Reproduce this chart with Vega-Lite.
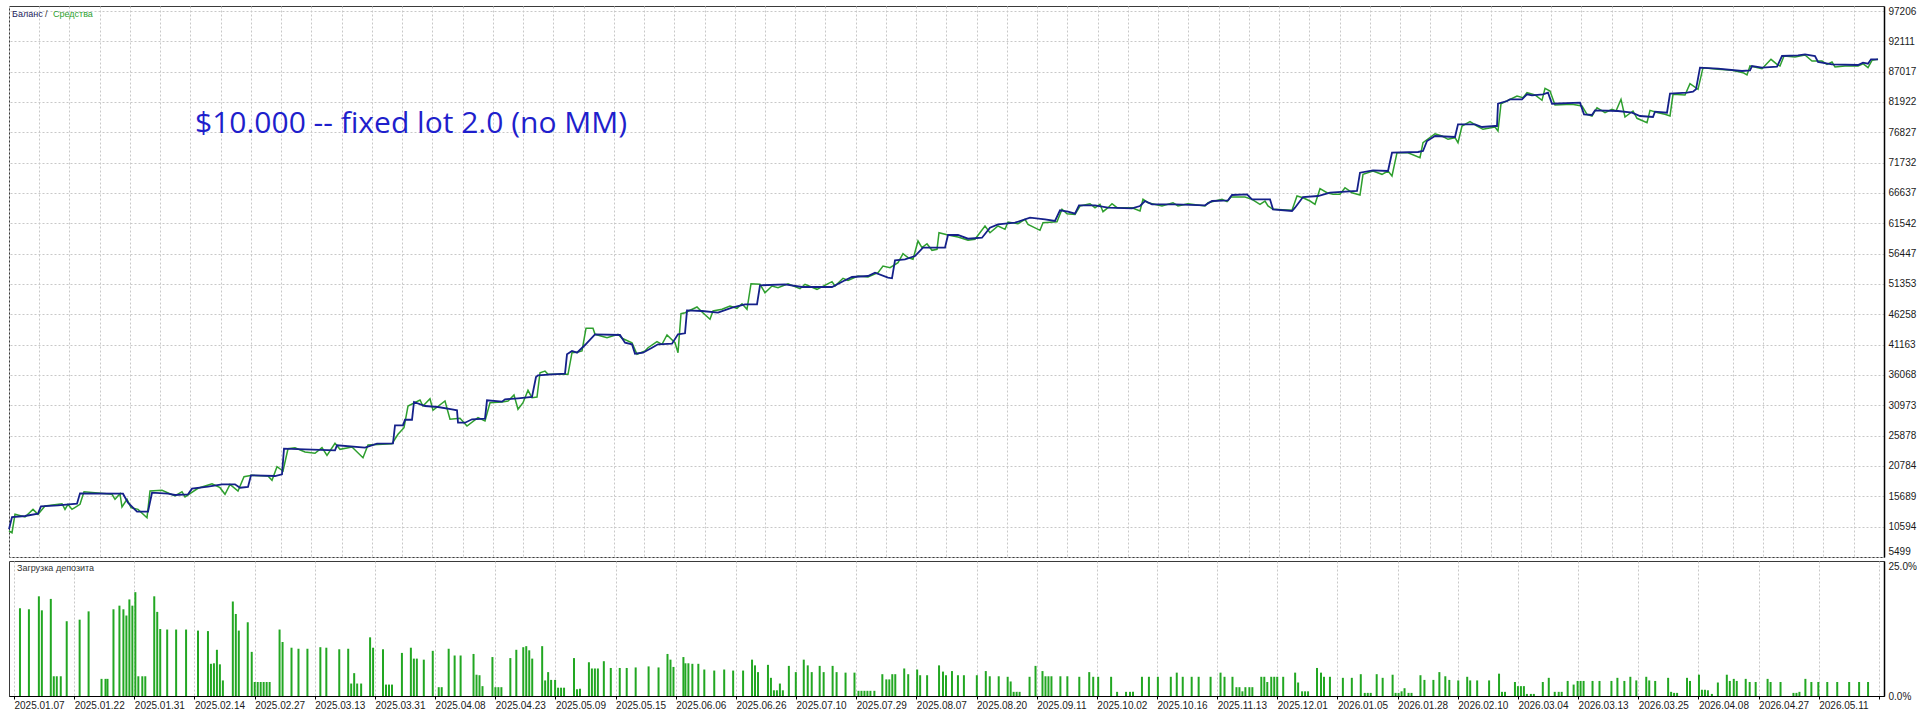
{
  "$schema": "https://vega.github.io/schema/vega-lite/v6.json",
  "background": "white",
  "padding": {"left": 4, "top": 5, "right": 0, "bottom": 0},
  "spacing": 2,
  "config": {
    "view": {"stroke": "#3a3a3a", "strokeWidth": 1},
    "axis": {"gridColor": "#c8c8c8", "gridDash": [2, 2], "gridWidth": 1, "labelFont": "Liberation Sans", "labelFontSize": 10, "labelColor": "#1a1a1a", "title": null, "labelOverlap": false, "labelFlush": false, "labelBound": false},
    "axisY": {"labelOverlap": false}
  },
  "datasets": {
    "bal": [
      {"i":0,"v":10130},{"i":3,"v":12198},{"i":16,"v":12366},{"i":29,"v":12752},{"i":32,"v":14000},{"i":49,"v":14168},{"i":68,"v":14438},{"i":71,"v":16180},{"i":114,"v":16114},{"i":119,"v":14600},{"i":128,"v":13090},{"i":139,"v":13090},{"i":143,"v":16280},{"i":159,"v":16114},{"i":166,"v":15894},{"i":179,"v":16010},{"i":183,"v":16950},{"i":199,"v":17290},{"i":213,"v":17690},{"i":226,"v":17690},{"i":231,"v":17120},{"i":239,"v":17238},{"i":242,"v":19200},{"i":266,"v":19086},{"i":273,"v":19370},{"i":275,"v":23670},{"i":296,"v":23570},{"i":326,"v":23400},{"i":328,"v":24240},{"i":356,"v":23840},{"i":368,"v":24510},{"i":384,"v":24580},{"i":386,"v":27600},{"i":394,"v":27600},{"i":396,"v":28540},{"i":403,"v":28540},{"i":405,"v":31518},{"i":416,"v":30846},{"i":429,"v":30680},{"i":443,"v":30290},{"i":448,"v":30120},{"i":449,"v":28040},{"i":456,"v":28040},{"i":463,"v":28610},{"i":476,"v":28720},{"i":478,"v":31800},{"i":493,"v":31570},{"i":496,"v":31970},{"i":509,"v":32140},{"i":523,"v":32360},{"i":527,"v":35718},{"i":529,"v":36000},{"i":543,"v":36170},{"i":556,"v":36270},{"i":558,"v":39530},{"i":563,"v":40086},{"i":568,"v":39800},{"i":576,"v":41090},{"i":586,"v":42890},{"i":611,"v":42774},{"i":616,"v":41480},{"i":623,"v":41210},{"i":626,"v":39640},{"i":634,"v":39800},{"i":643,"v":40640},{"i":649,"v":41210},{"i":663,"v":41310},{"i":669,"v":42890},{"i":676,"v":43060},{"i":678,"v":46920},{"i":693,"v":46806},{"i":709,"v":46520},{"i":723,"v":47360},{"i":736,"v":47930},{"i":748,"v":47930},{"i":751,"v":51120},{"i":776,"v":51290},{"i":793,"v":50838},{"i":823,"v":50838},{"i":836,"v":51960},{"i":843,"v":52518},{"i":859,"v":52686},{"i":866,"v":53240},{"i":879,"v":52400},{"i":883,"v":52300},{"i":886,"v":55320},{"i":896,"v":55490},{"i":906,"v":56046},{"i":914,"v":57440},{"i":936,"v":57440},{"i":939,"v":59574},{"i":949,"v":59574},{"i":959,"v":58950},{"i":973,"v":59120},{"i":981,"v":60800},{"i":989,"v":61370},{"i":1006,"v":61640},{"i":1021,"v":62480},{"i":1036,"v":62210},{"i":1046,"v":61926},{"i":1051,"v":63720},{"i":1059,"v":63490},{"i":1066,"v":63150},{"i":1070,"v":64560},{"i":1086,"v":64560},{"i":1099,"v":64160},{"i":1123,"v":64060},{"i":1131,"v":64446},{"i":1136,"v":65286},{"i":1143,"v":64730},{"i":1166,"v":64730},{"i":1196,"v":64560},{"i":1203,"v":65286},{"i":1219,"v":65400},{"i":1223,"v":66294},{"i":1238,"v":66410},{"i":1243,"v":65570},{"i":1261,"v":65570},{"i":1264,"v":63890},{"i":1283,"v":63606},{"i":1286,"v":64160},{"i":1294,"v":65958},{"i":1309,"v":66126},{"i":1321,"v":66680},{"i":1348,"v":66966},{"i":1351,"v":70040},{"i":1364,"v":70440},{"i":1379,"v":70326},{"i":1383,"v":73400},{"i":1409,"v":73520},{"i":1414,"v":73686},{"i":1418,"v":75366},{"i":1426,"v":76206},{"i":1446,"v":76038},{"i":1449,"v":78170},{"i":1466,"v":78170},{"i":1473,"v":77720},{"i":1486,"v":77886},{"i":1488,"v":77886},{"i":1489,"v":81630},{"i":1498,"v":82086},{"i":1501,"v":82370},{"i":1513,"v":82370},{"i":1518,"v":83210},{"i":1523,"v":83040},{"i":1534,"v":83210},{"i":1539,"v":83480},{"i":1543,"v":81630},{"i":1571,"v":81800},{"i":1575,"v":79850},{"i":1583,"v":79734},{"i":1586,"v":80520},{"i":1609,"v":80406},{"i":1623,"v":80120},{"i":1631,"v":79566},{"i":1644,"v":79400},{"i":1646,"v":80290},{"i":1658,"v":80120},{"i":1661,"v":83310},{"i":1678,"v":83480},{"i":1684,"v":83650},{"i":1687,"v":84050},{"i":1691,"v":87680},{"i":1709,"v":87510},{"i":1733,"v":87126},{"i":1741,"v":87240},{"i":1743,"v":87966},{"i":1753,"v":87680},{"i":1768,"v":87850},{"i":1773,"v":89646},{"i":1789,"v":89760},{"i":1796,"v":89930},{"i":1806,"v":89646},{"i":1809,"v":88638},{"i":1823,"v":88250},{"i":1849,"v":88134},{"i":1854,"v":88520},{"i":1859,"v":88350},{"i":1862,"v":89090},{"i":1869,"v":89090}
    ],
    "eq": [
      {"i":0,"v":9846},{"i":3,"v":9560},{"i":6,"v":12650},{"i":16,"v":12198},{"i":24,"v":13480},{"i":29,"v":12650},{"i":36,"v":14046},{"i":53,"v":14430},{"i":56,"v":13480},{"i":59,"v":14330},{"i":63,"v":13480},{"i":71,"v":14330},{"i":75,"v":16450},{"i":103,"v":16010},{"i":106,"v":15170},{"i":111,"v":16114},{"i":113,"v":13878},{"i":118,"v":15170},{"i":122,"v":13766},{"i":129,"v":13480},{"i":138,"v":12080},{"i":141,"v":16566},{"i":153,"v":16680},{"i":166,"v":15726},{"i":173,"v":16450},{"i":176,"v":15560},{"i":189,"v":17020},{"i":203,"v":17790},{"i":211,"v":17120},{"i":216,"v":16010},{"i":221,"v":17690},{"i":229,"v":16566},{"i":235,"v":18970},{"i":243,"v":19200},{"i":259,"v":19086},{"i":263,"v":18360},{"i":268,"v":20650},{"i":274,"v":19926},{"i":279,"v":23670},{"i":286,"v":23840},{"i":296,"v":23118},{"i":306,"v":22900},{"i":313,"v":23840},{"i":318,"v":22560},{"i":326,"v":24580},{"i":331,"v":23570},{"i":343,"v":23960},{"i":354,"v":22160},{"i":359,"v":24290},{"i":383,"v":24510},{"i":389,"v":26090},{"i":395,"v":27200},{"i":399,"v":30846},{"i":411,"v":31854},{"i":414,"v":30846},{"i":421,"v":32070},{"i":424,"v":30120},{"i":436,"v":31686},{"i":441,"v":28610},{"i":451,"v":28780},{"i":458,"v":27486},{"i":469,"v":28890},{"i":476,"v":28326},{"i":481,"v":31400},{"i":493,"v":31518},{"i":499,"v":31686},{"i":505,"v":32694},{"i":509,"v":30290},{"i":514,"v":31400},{"i":519,"v":33480},{"i":523,"v":32240},{"i":528,"v":32360},{"i":531,"v":36440},{"i":536,"v":36726},{"i":539,"v":36160},{"i":559,"v":36160},{"i":563,"v":39800},{"i":569,"v":39918},{"i":573,"v":40086},{"i":577,"v":43900},{"i":584,"v":43900},{"i":586,"v":42890},{"i":598,"v":42320},{"i":609,"v":42890},{"i":613,"v":42220},{"i":623,"v":41480},{"i":628,"v":39530},{"i":636,"v":40086},{"i":639,"v":40640},{"i":648,"v":41650},{"i":653,"v":41210},{"i":658,"v":42774},{"i":666,"v":41480},{"i":669,"v":39800},{"i":672,"v":46350},{"i":676,"v":46520},{"i":688,"v":47478},{"i":693,"v":46638},{"i":701,"v":45410},{"i":704,"v":46806},{"i":713,"v":47090},{"i":721,"v":47646},{"i":728,"v":47260},{"i":733,"v":48030},{"i":738,"v":47090},{"i":742,"v":51390},{"i":751,"v":51290},{"i":756,"v":49880},{"i":763,"v":51006},{"i":769,"v":50720},{"i":779,"v":51390},{"i":791,"v":50550},{"i":796,"v":51290},{"i":808,"v":50450},{"i":823,"v":51730},{"i":826,"v":51006},{"i":834,"v":52300},{"i":839,"v":51960},{"i":849,"v":52686},{"i":859,"v":52518},{"i":869,"v":53240},{"i":874,"v":54366},{"i":881,"v":54080},{"i":889,"v":54920},{"i":894,"v":56430},{"i":899,"v":55760},{"i":904,"v":55490},{"i":909,"v":58566},{"i":913,"v":57440},{"i":918,"v":58110},{"i":923,"v":57000},{"i":928,"v":57170},{"i":930,"v":59960},{"i":939,"v":59574},{"i":949,"v":59240},{"i":959,"v":58680},{"i":966,"v":58850},{"i":976,"v":61086},{"i":981,"v":59960},{"i":989,"v":61086},{"i":996,"v":60530},{"i":999,"v":61760},{"i":1009,"v":61470},{"i":1016,"v":62210},{"i":1019,"v":61370},{"i":1031,"v":60360},{"i":1034,"v":61640},{"i":1048,"v":61810},{"i":1053,"v":63890},{"i":1058,"v":63150},{"i":1066,"v":63040},{"i":1071,"v":64446},{"i":1081,"v":64830},{"i":1086,"v":64160},{"i":1091,"v":64730},{"i":1094,"v":63490},{"i":1099,"v":64160},{"i":1103,"v":64830},{"i":1108,"v":64160},{"i":1123,"v":64160},{"i":1131,"v":63606},{"i":1134,"v":65570},{"i":1139,"v":65000},{"i":1153,"v":64446},{"i":1164,"v":65000},{"i":1169,"v":64446},{"i":1179,"v":64830},{"i":1196,"v":64446},{"i":1199,"v":65000},{"i":1213,"v":65570},{"i":1218,"v":65170},{"i":1222,"v":65958},{"i":1236,"v":65958},{"i":1243,"v":65570},{"i":1251,"v":64730},{"i":1256,"v":65286},{"i":1259,"v":64446},{"i":1264,"v":63890},{"i":1283,"v":63720},{"i":1288,"v":66126},{"i":1294,"v":65840},{"i":1301,"v":65286},{"i":1306,"v":64730},{"i":1311,"v":67350},{"i":1318,"v":66680},{"i":1324,"v":66410},{"i":1331,"v":66410},{"i":1336,"v":67520},{"i":1343,"v":66680},{"i":1351,"v":66294},{"i":1354,"v":69770},{"i":1364,"v":70326},{"i":1373,"v":69770},{"i":1379,"v":70326},{"i":1383,"v":69486},{"i":1388,"v":73400},{"i":1399,"v":73400},{"i":1411,"v":72560},{"i":1414,"v":75080},{"i":1426,"v":76590},{"i":1433,"v":76206},{"i":1439,"v":75650},{"i":1446,"v":75920},{"i":1449,"v":75080},{"i":1453,"v":77886},{"i":1461,"v":78610},{"i":1468,"v":77886},{"i":1474,"v":77330},{"i":1486,"v":77720},{"i":1489,"v":77046},{"i":1492,"v":81630},{"i":1508,"v":82926},{"i":1514,"v":82640},{"i":1518,"v":83480},{"i":1526,"v":83094},{"i":1533,"v":82200},{"i":1536,"v":84220},{"i":1541,"v":83766},{"i":1546,"v":81414},{"i":1563,"v":81530},{"i":1573,"v":81246},{"i":1578,"v":79850},{"i":1583,"v":79566},{"i":1588,"v":80960},{"i":1596,"v":80120},{"i":1603,"v":80690},{"i":1607,"v":80406},{"i":1612,"v":82370},{"i":1616,"v":79400},{"i":1624,"v":80406},{"i":1628,"v":79180},{"i":1638,"v":78440},{"i":1641,"v":80520},{"i":1649,"v":80120},{"i":1656,"v":79850},{"i":1661,"v":79566},{"i":1664,"v":83210},{"i":1676,"v":83094},{"i":1681,"v":84990},{"i":1689,"v":84050},{"i":1694,"v":87680},{"i":1709,"v":87410},{"i":1723,"v":87240},{"i":1734,"v":86840},{"i":1738,"v":86454},{"i":1741,"v":87966},{"i":1753,"v":87510},{"i":1762,"v":89090},{"i":1768,"v":88250},{"i":1771,"v":87966},{"i":1775,"v":89646},{"i":1786,"v":89478},{"i":1796,"v":89814},{"i":1803,"v":88806},{"i":1813,"v":88806},{"i":1818,"v":88250},{"i":1823,"v":88638},{"i":1826,"v":87798},{"i":1836,"v":87966},{"i":1849,"v":87966},{"i":1854,"v":88350},{"i":1859,"v":87680},{"i":1863,"v":88920},{"i":1869,"v":89090}
    ],
    "load": [
      {"i":6,"p":16.9},{"i":15,"p":16.7},{"i":25,"p":19.2},{"i":28,"p":16.5},{"i":37,"p":18.7},{"i":40,"p":3.8},{"i":43,"p":3.8},{"i":47,"p":3.8},{"i":53,"p":14.4},{"i":66,"p":14.7},{"i":75,"p":16.3},{"i":88,"p":3.3},{"i":92,"p":3.3},{"i":94,"p":3.3},{"i":100,"p":16.7},{"i":106,"p":17.4},{"i":110,"p":16.7},{"i":113,"p":15.5},{"i":116,"p":18.6},{"i":119,"p":17.4},{"i":122,"p":20.0},{"i":125,"p":3.8},{"i":129,"p":3.8},{"i":132,"p":3.8},{"i":141,"p":19.2},{"i":144,"p":16.2},{"i":147,"p":12.9},{"i":154,"p":12.8},{"i":163,"p":12.8},{"i":173,"p":12.8},{"i":185,"p":12.6},{"i":195,"p":12.5},{"i":198,"p":6.2},{"i":201,"p":6.3},{"i":204,"p":8.9},{"i":207,"p":6.1},{"i":210,"p":3.0},{"i":220,"p":18.2},{"i":223,"p":15.8},{"i":226,"p":12.6},{"i":235,"p":14.2},{"i":239,"p":8.5},{"i":242,"p":2.7},{"i":245,"p":2.7},{"i":248,"p":2.7},{"i":251,"p":2.7},{"i":254,"p":2.7},{"i":257,"p":2.7},{"i":267,"p":12.8},{"i":270,"p":10.4},{"i":279,"p":9.3},{"i":286,"p":9.1},{"i":295,"p":9.1},{"i":308,"p":9.4},{"i":314,"p":9.3},{"i":327,"p":9.0},{"i":336,"p":9.1},{"i":339,"p":2.4},{"i":342,"p":4.4},{"i":345,"p":2.4},{"i":349,"p":2.4},{"i":358,"p":11.3},{"i":361,"p":9.3},{"i":371,"p":9.0},{"i":374,"p":2.2},{"i":377,"p":2.2},{"i":380,"p":2.2},{"i":390,"p":8.3},{"i":399,"p":9.3},{"i":402,"p":7.2},{"i":405,"p":7.2},{"i":412,"p":7.0},{"i":421,"p":8.7},{"i":427,"p":1.7},{"i":430,"p":1.7},{"i":437,"p":9.1},{"i":443,"p":7.8},{"i":449,"p":7.8},{"i":462,"p":8.1},{"i":465,"p":4.1},{"i":468,"p":4.0},{"i":471,"p":1.9},{"i":481,"p":7.5},{"i":484,"p":1.7},{"i":487,"p":1.7},{"i":490,"p":1.7},
      {"i":499,"p":7.3},{"i":505,"p":8.9},{"i":512,"p":9.4},{"i":515,"p":9.6},{"i":518,"p":8.8},{"i":521,"p":7.2},{"i":531,"p":9.6},{"i":534,"p":3.0},{"i":537,"p":4.6},{"i":540,"p":3.1},{"i":544,"p":3.1},{"i":547,"p":1.6},{"i":550,"p":1.6},{"i":553,"p":1.6},{"i":563,"p":7.3},{"i":566,"p":1.3},{"i":569,"p":1.4},{"i":578,"p":6.5},{"i":581,"p":5.3},{"i":584,"p":5.3},{"i":587,"p":5.3},{"i":593,"p":6.7},{"i":600,"p":5.4},{"i":609,"p":5.4},{"i":616,"p":5.4},{"i":625,"p":5.5},{"i":638,"p":5.7},{"i":648,"p":5.5},{"i":657,"p":8.1},{"i":660,"p":7.0},{"i":663,"p":5.6},{"i":673,"p":7.5},{"i":675,"p":6.3},{"i":678,"p":6.3},{"i":682,"p":6.2},{"i":688,"p":6.2},{"i":694,"p":5.1},{"i":704,"p":4.9},{"i":714,"p":5.1},{"i":723,"p":4.9},{"i":733,"p":4.9},{"i":742,"p":7.0},{"i":745,"p":5.9},{"i":748,"p":4.6},{"i":758,"p":6.0},{"i":761,"p":3.5},{"i":764,"p":1.1},{"i":767,"p":1.1},{"i":770,"p":2.4},{"i":773,"p":1.1},{"i":779,"p":5.8},{"i":786,"p":4.6},{"i":794,"p":7.0},{"i":798,"p":5.9},{"i":802,"p":4.6},{"i":810,"p":5.8},{"i":814,"p":4.6},{"i":823,"p":5.8},{"i":827,"p":4.6},{"i":836,"p":4.5},{"i":845,"p":4.5},{"i":849,"p":1.0},{"i":852,"p":1.0},{"i":855,"p":1.0},{"i":858,"p":1.0},{"i":861,"p":1.0},{"i":865,"p":1.0},{"i":873,"p":4.2},{"i":877,"p":3.2},{"i":880,"p":3.2},{"i":883,"p":4.2},{"i":886,"p":4.2},{"i":895,"p":5.3},{"i":899,"p":4.2},{"i":908,"p":5.1},{"i":911,"p":4.0},{"i":918,"p":4.0},{"i":930,"p":5.9},{"i":934,"p":4.7},{"i":937,"p":4.0},{"i":943,"p":4.8},
      {"i":949,"p":4.0},{"i":955,"p":4.0},{"i":968,"p":4.0},{"i":977,"p":4.8},{"i":981,"p":3.8},{"i":990,"p":3.8},{"i":999,"p":3.7},{"i":1002,"p":2.8},{"i":1005,"p":0.8},{"i":1008,"p":0.8},{"i":1011,"p":0.8},{"i":1021,"p":3.7},{"i":1027,"p":5.8},{"i":1034,"p":4.8},{"i":1037,"p":3.8},{"i":1040,"p":3.8},{"i":1043,"p":3.8},{"i":1052,"p":3.8},{"i":1059,"p":3.8},{"i":1071,"p":3.7},{"i":1081,"p":4.6},{"i":1085,"p":3.7},{"i":1090,"p":3.7},{"i":1103,"p":3.7},{"i":1109,"p":0.8},{"i":1118,"p":0.8},{"i":1122,"p":0.8},{"i":1125,"p":0.8},{"i":1134,"p":3.7},{"i":1141,"p":3.7},{"i":1150,"p":3.7},{"i":1163,"p":3.7},{"i":1169,"p":4.5},{"i":1175,"p":3.7},{"i":1184,"p":3.7},{"i":1191,"p":3.7},{"i":1203,"p":3.7},{"i":1213,"p":4.5},{"i":1217,"p":3.7},{"i":1225,"p":3.7},{"i":1229,"p":1.7},{"i":1232,"p":1.7},{"i":1235,"p":0.9},{"i":1238,"p":1.7},{"i":1242,"p":1.7},{"i":1245,"p":1.7},{"i":1254,"p":3.7},{"i":1257,"p":3.7},{"i":1260,"p":2.7},{"i":1264,"p":3.7},{"i":1267,"p":3.7},{"i":1270,"p":3.7},{"i":1276,"p":3.7},{"i":1288,"p":4.5},{"i":1291,"p":2.6},{"i":1295,"p":0.9},{"i":1298,"p":0.9},{"i":1301,"p":0.9},{"i":1310,"p":5.4},{"i":1314,"p":4.5},{"i":1317,"p":3.7},{"i":1323,"p":3.7},{"i":1336,"p":3.5},{"i":1345,"p":3.5},{"i":1354,"p":4.2},{"i":1358,"p":0.6},{"i":1361,"p":0.6},{"i":1364,"p":0.6},{"i":1370,"p":4.2},{"i":1376,"p":3.5},{"i":1386,"p":4.1},{"i":1389,"p":0.6},{"i":1392,"p":0.6},{"i":1395,"p":0.9},{"i":1398,"p":1.5},{"i":1402,"p":0.6},{"i":1405,"p":0.6},
      {"i":1414,"p":4.0},{"i":1418,"p":3.1},{"i":1427,"p":3.1},{"i":1433,"p":4.6},{"i":1439,"p":3.8},{"i":1443,"p":3.1},{"i":1452,"p":3.0},{"i":1461,"p":3.7},{"i":1464,"p":3.0},{"i":1471,"p":3.0},{"i":1483,"p":3.0},{"i":1493,"p":4.3},{"i":1496,"p":0.8},{"i":1499,"p":0.8},{"i":1509,"p":2.7},{"i":1512,"p":1.9},{"i":1515,"p":1.9},{"i":1518,"p":1.9},{"i":1521,"p":0.4},{"i":1525,"p":0.4},{"i":1528,"p":0.4},{"i":1537,"p":2.7},{"i":1543,"p":3.5},{"i":1549,"p":0.8},{"i":1553,"p":0.8},{"i":1556,"p":0.8},{"i":1562,"p":2.9},{"i":1568,"p":2.2},{"i":1572,"p":2.9},{"i":1575,"p":2.9},{"i":1578,"p":2.9},{"i":1587,"p":2.9},{"i":1594,"p":2.9},{"i":1606,"p":2.9},{"i":1612,"p":3.5},{"i":1619,"p":2.9},{"i":1625,"p":3.7},{"i":1631,"p":3.0},{"i":1641,"p":3.7},{"i":1644,"p":3.0},{"i":1650,"p":2.9},{"i":1663,"p":3.5},{"i":1666,"p":0.8},{"i":1669,"p":0.6},{"i":1672,"p":0.6},{"i":1682,"p":3.5},{"i":1685,"p":2.9},{"i":1694,"p":4.1},{"i":1697,"p":1.2},{"i":1700,"p":1.2},{"i":1703,"p":1.1},{"i":1707,"p":0.4},{"i":1713,"p":2.6},{"i":1722,"p":4.1},{"i":1725,"p":2.9},{"i":1729,"p":3.3},{"i":1732,"p":2.9},{"i":1741,"p":3.3},{"i":1745,"p":2.7},{"i":1751,"p":2.7},{"i":1763,"p":3.3},{"i":1766,"p":2.7},{"i":1776,"p":2.7},{"i":1789,"p":0.6},{"i":1792,"p":0.6},{"i":1795,"p":0.8},{"i":1801,"p":3.3},{"i":1807,"p":2.7},{"i":1814,"p":2.7},{"i":1823,"p":2.7},{"i":1833,"p":2.7},{"i":1845,"p":2.7},{"i":1855,"p":2.7},{"i":1864,"p":2.7}
    ]
  },
  "vconcat": [
    {
      "width": 1875,
      "height": 551,
      "encoding": {
        "x": {"type": "quantitative", "scale": {"domain": [0, 1875], "nice": false, "zero": false},
          "axis": {"values": [0,30.24,60.48,90.72,120.96,151.2,181.44,211.68,241.92,272.16,302.4,332.64,362.88,393.12,423.36,453.6,483.84,514.08,544.32,574.56,604.8,635.04,665.28,695.52,725.76,756,786.24,816.48,846.72,876.96,907.2,937.44,967.68,997.92,1028.16,1058.4,1088.64,1118.88,1149.12,1179.36,1209.6,1239.84,1270.08,1300.32,1330.56,1360.8,1391.04,1421.28,1451.52,1481.76,1512,1542.24,1572.48,1602.72,1632.96,1663.2,1693.44,1723.68,1753.92,1784.16,1814.4,1844.64,1874.88],
            "labels": false, "ticks": false, "domain": false, "grid": true, "title": null}},
        "y": {"type": "quantitative", "scale": {"domain": [5478, 98046], "nice": false, "zero": false},
          "axis": {"orient": "right", "values": [5499,10594,15689,20784,25878,30973,36068,41163,46258,51353,56447,61542,66637,71732,76827,81922,87017,92111,97206],
            "format": "d", "grid": true, "ticks": false, "domain": true, "domainColor": "#000000", "domainWidth": 1.5, "labelFlush": false, "labelOverlap": false, "labelBound": false, "labelPadding": 4, "title": null,
            "labelBaseline": {"condition": {"test": "datum.value < 6000", "value": "bottom"}, "value": "middle"}}}
      },
      "layer": [
        {
          "data": {"name": "eq"},
          "mark": {"type": "line", "color": "#2e9f2e", "strokeWidth": 1.5, "interpolate": "linear"},
          "encoding": {
            "x": {"field": "i"},
            "y": {"field": "v"}
          }
        },
        {
          "data": {"name": "bal"},
          "mark": {"type": "line", "color": "#15218a", "strokeWidth": 1.8, "interpolate": "linear"},
          "encoding": {
            "x": {"field": "i"},
            "y": {"field": "v"}
          }
        },
        {
          "data": {"values": [{"t": "$10.000 -- fixed lot 2.0 (no MM)", "px": 186, "py": 76710}]},
          "mark": {"type": "text", "align": "left", "baseline": "alphabetic", "font": "Open Sans", "fontSize": 30, "color": "#1f1fcc"},
          "encoding": {
            "x": {"field": "px"},
            "y": {"field": "py"},
            "text": {"field": "t"}
          }
        },
        {
          "data": {"values": [{"t": "Баланс", "c": "b", "px": 3, "py": 96652}, {"t": "/", "c": "s", "px": 36, "py": 96652}, {"t": "Средства", "c": "e", "px": 44, "py": 96652}]},
          "mark": {"type": "text", "align": "left", "baseline": "middle", "font": "Liberation Sans", "fontSize": 9},
          "encoding": {
            "x": {"field": "px"},
            "y": {"field": "py"},
            "text": {"field": "t"},
            "color": {"field": "c", "type": "nominal", "scale": {"domain": ["b", "s", "e"], "range": ["#22225a", "#333333", "#2e9f2e"]}, "legend": null}
          }
        }
      ]
    },
    {
      "width": 1875,
      "height": 135,
      "layer": [
        {
          "data": {"name": "load"},
          "mark": {"type": "bar", "width": 2, "color": "#22a722"},
          "encoding": {
            "x": {"field": "i", "type": "quantitative", "scale": {"domain": [0, 1875], "nice": false, "zero": false},
              "axis": {"values": [0,30.24,60.48,90.72,120.96,151.2,181.44,211.68,241.92,272.16,302.4,332.64,362.88,393.12,423.36,453.6,483.84,514.08,544.32,574.56,604.8,635.04,665.28,695.52,725.76,756,786.24,816.48,846.72,876.96,907.2,937.44,967.68,997.92,1028.16,1058.4,1088.64,1118.88,1149.12,1179.36,1209.6,1239.84,1270.08,1300.32,1330.56,1360.8,1391.04,1421.28,1451.52,1481.76,1512,1542.24,1572.48,1602.72,1632.96,1663.2,1693.44,1723.68,1753.92,1784.16,1814.4,1844.64,1874.88],
                "grid": true, "domain": true, "domainColor": "#000000", "tickSize": 3,
                "tickColor": {"condition": {"test": "round(datum.value/30.24) % 2 == 0", "value": "#000000"}, "value": "transparent"},
                "labelExpr": "(round(datum.value/30.24) % 2 == 0 && datum.value < 1870) ? ['2025.01.07','2025.01.22','2025.01.31','2025.02.14','2025.02.27','2025.03.13','2025.03.31','2025.04.08','2025.04.23','2025.05.09','2025.05.15','2025.06.06','2025.06.26','2025.07.10','2025.07.29','2025.08.07','2025.08.20','2025.09.11','2025.10.02','2025.10.16','2025.11.13','2025.12.01','2026.01.05','2026.01.28','2026.02.10','2026.03.04','2026.03.13','2026.03.25','2026.04.08','2026.04.27','2026.05.11'][round(datum.value/60.48)] : ''",
                "labelAlign": "left", "labelDx": 1, "labelPadding": 1, "labelOverlap": false, "labelBound": false, "labelFlush": false, "title": null}},
            "y": {"field": "p", "type": "quantitative", "scale": {"domain": [0, 26], "nice": false, "zero": true},
              "axis": {"orient": "right", "values": [0, 25], "labelExpr": "format(datum.value, '.1f') + '%'", "grid": false, "ticks": false, "domain": true, "domainColor": "#000000", "domainWidth": 1.5, "labelFlush": false, "labelOverlap": false, "labelPadding": 4, "title": null}}
          }
        },
        {
          "data": {"values": [{"t": "Загрузка депозита", "px": 3, "py": 24.6}]},
          "mark": {"type": "text", "align": "left", "baseline": "middle", "font": "Liberation Sans", "fontSize": 9, "color": "#333333"},
          "encoding": {
            "x": {"field": "px", "type": "quantitative"},
            "y": {"field": "py", "type": "quantitative"},
            "text": {"field": "t"}
          }
        }
      ]
    }
  ]
}
